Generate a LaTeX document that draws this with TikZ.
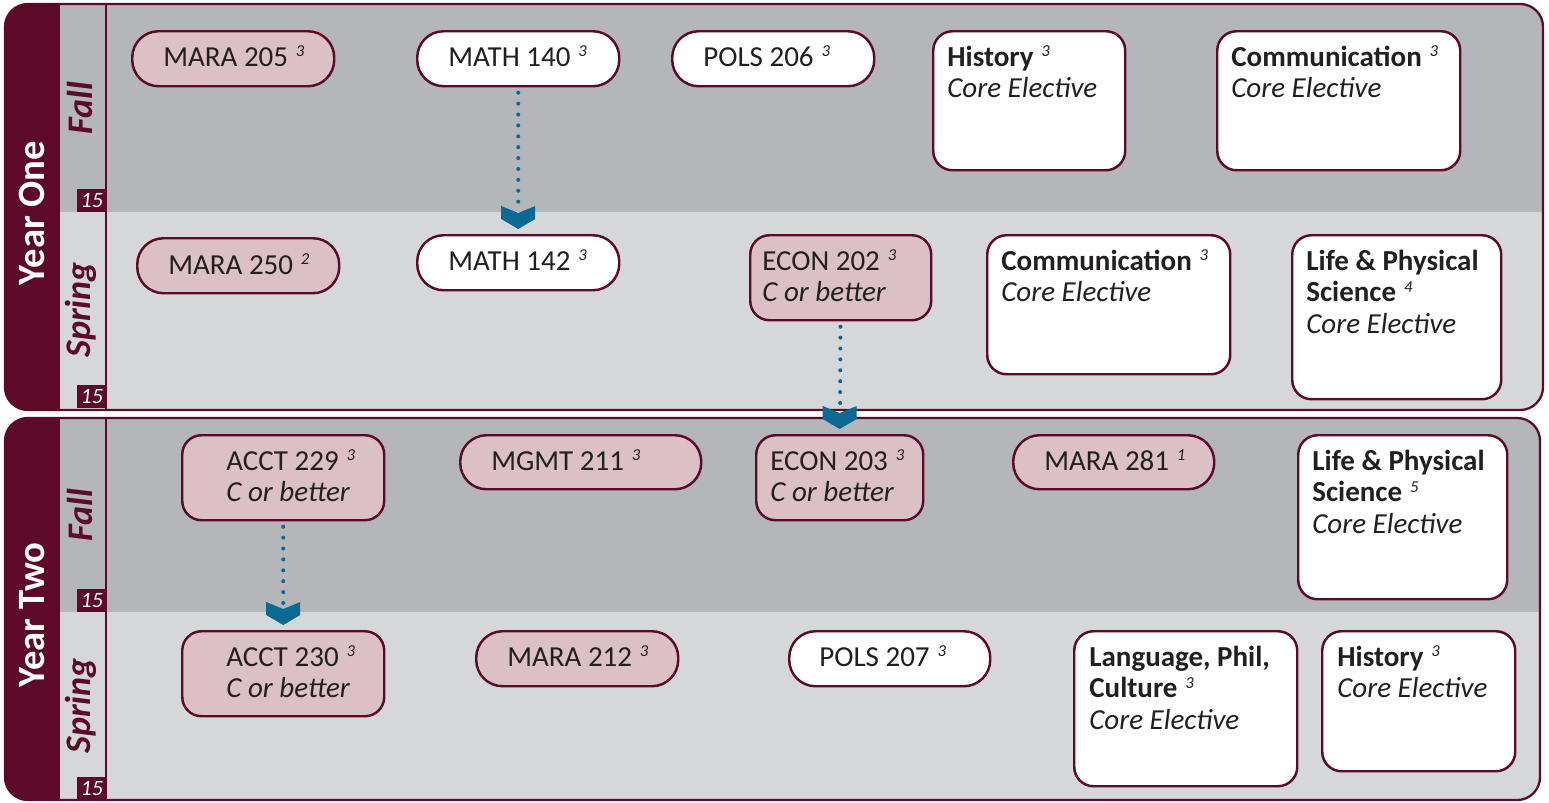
\documentclass[tikz,border=0pt]{standalone}
\usepackage{fontspec}
\setmainfont{Carlito}

\definecolor{maroon}{HTML}{5C0A28}
\definecolor{fallgray}{HTML}{B5B6B9}
\definecolor{springgray}{HTML}{D6D7D9}
\definecolor{pinkfill}{HTML}{DBC1C6}
\definecolor{arrowblue}{HTML}{0B6A94}
\definecolor{ink}{HTML}{231F20}

\newcommand{\coursefont}{\fontsize{16.5}{18.1}\selectfont}
\newcommand{\hrs}[1]{\hspace{4.5pt}\raisebox{5.5pt}{\fontsize{9.5}{9.5}\selectfont\itshape #1}}
\newcommand{\lines}[1]{\parbox[t]{5cm}{#1}}

\tikzset{
  course/.style={draw=maroon, line width=1.4pt, anchor=north west, inner sep=0pt},
  pill/.style={course, rounded corners=15pt},
  card/.style={course, rounded corners=11pt},
  major/.style={fill=pinkfill},
  general/.style={fill=white},
  boxsize/.style 2 args={minimum width=#1*0.02cm, minimum height=#2*0.02cm},
  txt/.style={anchor=base west, inner sep=0pt, text=ink, font=\coursefont},
  prereq/.style={draw=arrowblue, line width=2.3pt, line cap=round, dash pattern=on 0pt off 6.2pt, shorten <=3pt, shorten >=14pt},
  chevron/.pic={\fill[arrowblue] (-17,-28) -- (0,-21) -- (17,-28) -- (17,-15) -- (0,-5) -- (-17,-15) -- cycle;},
  yearlbl/.style={rotate=90, anchor=base, inner sep=0pt, text=white, font=\fontsize{22}{22}\selectfont\bfseries},
  semlbl/.style={rotate=90, anchor=base, inner sep=0pt, text=maroon, font=\fontsize{20.5}{20.5}\selectfont\bfseries\itshape},
  credits/.style={anchor=north west, fill=maroon, text=white, inner sep=0pt, minimum width=0.58cm, minimum height=0.46cm, font=\fontsize{12.5}{12.5}\selectfont\itshape}
}

\begin{document}
\begin{tikzpicture}[x=0.02cm, y=-0.02cm]
\useasboundingbox (0,0) rectangle (1549,802);

% year one panel
\begin{scope}
  \clip[rounded corners=13pt] (5,4) rectangle (1543,410);
  \fill[fallgray] (5,4) rectangle (1543,212);
  \fill[springgray] (5,212) rectangle (1543,410);
  \fill[maroon] (5,4) rectangle (60,410);
\end{scope}
\draw[maroon, line width=1.3pt, rounded corners=13pt] (5,4) rectangle (1543,410);
\draw[maroon, line width=1.3pt] (106,4) -- (106,410);

% year two panel
\begin{scope}
  \clip[rounded corners=13pt] (5,418) rectangle (1540,800);
  \fill[fallgray] (5,418) rectangle (1540,612);
  \fill[springgray] (5,612) rectangle (1540,800);
  \fill[maroon] (5,418) rectangle (60,800);
\end{scope}
\draw[maroon, line width=1.3pt, rounded corners=13pt] (5,418) rectangle (1540,800);
\draw[maroon, line width=1.3pt] (106,418) -- (106,800);

% labels
\node[yearlbl] (yr1) at (44,213) {Year One};
\node[yearlbl] (yr2) at (44,615) {Year Two};
\node[semlbl] (fall1) at (92,108) {Fall};
\node[semlbl] (spring1) at (90,310) {Spring};
\node[semlbl] (fall2) at (92,515) {Fall};
\node[semlbl] (spring2) at (90,706) {Spring};
\node[credits] (cr1) at (77,189) {15};
\node[credits] (cr2) at (77,385) {15};
\node[credits] (cr3) at (77,589) {15};
\node[credits] (cr4) at (77,777) {15};

% year one, fall
\node[pill, major, boxsize={202}{55}] (mara205) at (131,30) {};
\node[pill, general, boxsize={202}{55}] (math140) at (416,30) {};
\node[pill, general, boxsize={202}{55}] (pols206) at (671,30) {};
\node[card, general, boxsize={192}{139}] (hist1) at (932,30) {};
\node[card, general, boxsize={243}{139}] (comm1) at (1216,30) {};
\node[txt] (mara205-t) at (163,66) {MARA 205\hrs{3}};
\node[txt] (math140-t) at (448,66) {MATH 140\hrs{3}};
\node[txt] (pols206-t) at (703,66) {POLS 206\hrs{3}};
\node[txt] (hist1-t) at (947,66) {\lines{\textbf{History}\hrs{3}\\\textit{Core Elective}}};
\node[txt] (comm1-t) at (1231,66) {\lines{\textbf{Communication}\hrs{3}\\\textit{Core Elective}}};

% year one, spring
\node[pill, major, boxsize={202}{55}] (mara250) at (136,237) {};
\node[pill, general, boxsize={202}{55}] (math142) at (416,234) {};
\node[card, major, boxsize={181}{85}] (econ202) at (749,234) {};
\node[card, general, boxsize={243}{139}] (comm2) at (986,234) {};
\node[card, general, boxsize={209}{164}] (life1) at (1291,234) {};
\node[txt] (mara250-t) at (168,274) {MARA 250\hrs{2}};
\node[txt] (math142-t) at (448,270) {MATH 142\hrs{3}};
\node[txt] (econ202-t) at (762,270) {\lines{ECON 202\hrs{3}\\\textit{C or better}}};
\node[txt] (comm2-t) at (1001,270) {\lines{\textbf{Communication}\hrs{3}\\\textit{Core Elective}}};
\node[txt] (life1-t) at (1306,270) {\lines{\textbf{Life \& Physical}\\\textbf{Science}\hrs{4}\\\textit{Core Elective}}};

% year two, fall
\node[card, major, boxsize={202}{85}] (acct229) at (181,434) {};
\node[pill, major, boxsize={241}{54}] (mgmt211) at (459,434) {};
\node[card, major, boxsize={167}{85}] (econ203) at (755,434) {};
\node[pill, major, boxsize={201}{54}] (mara281) at (1012,434) {};
\node[card, general, boxsize={209}{164}] (life2) at (1297,434) {};
\node[txt] (acct229-t) at (226,470) {\lines{ACCT 229\hrs{3}\\\textit{C or better}}};
\node[txt] (mgmt211-t) at (491,470) {MGMT 211\hrs{3}};
\node[txt] (econ203-t) at (770,470) {\lines{ECON 203\hrs{3}\\\textit{C or better}}};
\node[txt] (mara281-t) at (1044,470) {MARA 281\hrs{1}};
\node[txt] (life2-t) at (1312,470) {\lines{\textbf{Life \& Physical}\\\textbf{Science}\hrs{5}\\\textit{Core Elective}}};

% year two, spring
\node[card, major, boxsize={202}{85}] (acct230) at (181,630) {};
\node[pill, major, boxsize={202}{55}] (mara212) at (475,630) {};
\node[pill, general, boxsize={201}{55}] (pols207) at (788,630) {};
\node[card, general, boxsize={223}{155}] (lang) at (1073,630) {};
\node[card, general, boxsize={193}{140}] (hist2) at (1321,630) {};
\node[txt] (acct230-t) at (226,666) {\lines{ACCT 230\hrs{3}\\\textit{C or better}}};
\node[txt] (mara212-t) at (507,666) {MARA 212\hrs{3}};
\node[txt] (pols207-t) at (819,666) {POLS 207\hrs{3}};
\node[txt] (lang-t) at (1089,666) {\lines{\textbf{Language, Phil,}\\\textbf{Culture}\hrs{3}\\\textit{Core Elective}}};
\node[txt] (hist2-t) at (1337,666) {\lines{\textbf{History}\hrs{3}\\\textit{Core Elective}}};

% prerequisites
\draw[prereq] (math140) -- (math142);
\pic at (math142.north) {chevron};
\draw[prereq] (econ202) -- (econ203);
\pic at (econ203.north) {chevron};
\draw[prereq] (acct229) -- (acct230);
\pic at (acct230.north) {chevron};
\end{tikzpicture}
\end{document}
